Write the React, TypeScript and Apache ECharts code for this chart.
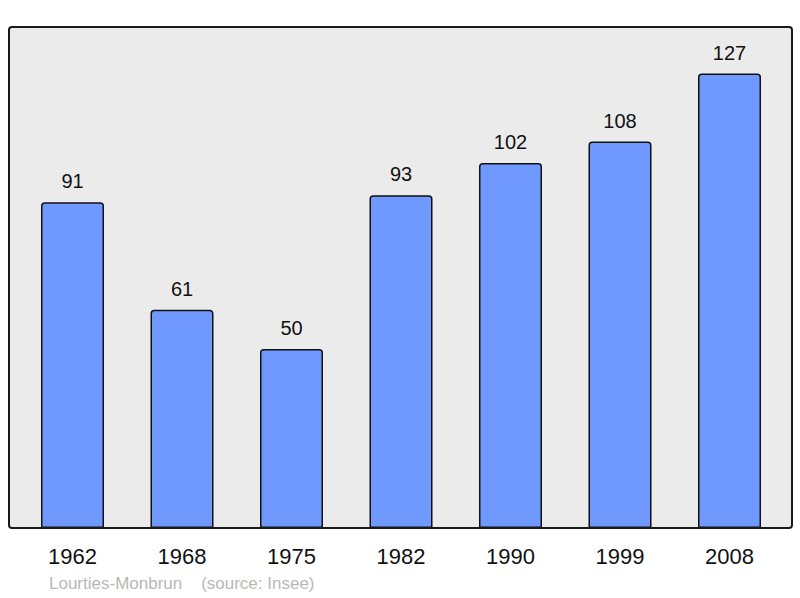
import { useEffect, useRef } from 'react';
import * as echarts from 'echarts';

const years = ['1962', '1968', '1975', '1982', '1990', '1999', '2008'];
const population = [91, 61, 50, 93, 102, 108, 127];
const footer = 'Lourties-Monbrun    (source: Insee)';

const App = () => {
    const chartRef = useRef<HTMLDivElement>(null);

    useEffect(() => {
        document.body.style.margin = '0';
        const chart = echarts.init(chartRef.current, null, { renderer: 'svg' });
        chart.setOption({
            animation: false,
            textStyle: { fontFamily: 'Liberation Sans, Arial, sans-serif' },
            grid: { left: 17.75, right: 15.75, top: 27, bottom: 70 },
            xAxis: {
                type: 'category',
                data: years,
                axisLine: { show: false },
                axisTick: { show: false },
                axisLabel: { color: '#111', fontSize: 22, margin: 17 },
            },
            yAxis: {
                type: 'value',
                min: 0,
                max: 140,
                show: false,
                splitLine: { show: false },
            },
            graphic: [
                {
                    type: 'rect',
                    z: -10,
                    shape: { x: 9, y: 27, width: 783, height: 501, r: 3 },
                    style: { fill: '#ebebeb', stroke: 'none' },
                },
                {
                    type: 'rect',
                    z: 100,
                    shape: { x: 9, y: 27, width: 783, height: 501, r: 3 },
                    style: { fill: 'none', stroke: '#1a1a1a', lineWidth: 2 },
                },
                {
                    type: 'text',
                    x: 49,
                    y: 583,
                    style: {
                        text: footer,
                        fill: '#b8b8b8',
                        fontSize: 17,
                        fontFamily: 'Liberation Sans, Arial, sans-serif',
                        verticalAlign: 'middle',
                    },
                },
            ],
            series: [
                {
                    type: 'bar',
                    data: population,
                    barWidth: 63,
                    itemStyle: {
                        color: '#7099ff',
                        borderColor: '#111',
                        borderWidth: 1.5,
                        borderRadius: [3, 3, 0, 0],
                    },
                    label: {
                        show: true,
                        position: 'top',
                        distance: 11,
                        color: '#111',
                        fontSize: 20,
                    },
                },
            ],
        });
        return () => chart.dispose();
    }, []);

    return <div ref={chartRef} style={{ width: 800, height: 598 }} />;
};

export default App;
